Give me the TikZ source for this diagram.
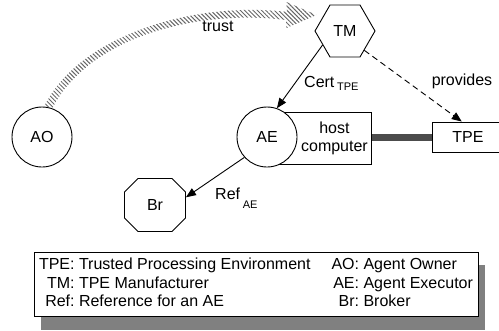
\documentclass[tikz,border=0pt]{standalone}
\usepackage{fontspec}
\setmainfont{Liberation Sans}
\usetikzlibrary{arrows.meta,calc,shapes.geometric,shapes.misc,shadows,patterns.meta}
\definecolor{HatchClr}{gray}{0.4}
\definecolor{LinkClr}{gray}{0.3}
\definecolor{ShadowClr}{gray}{0.5}

\begin{document}
\begin{tikzpicture}[x=1pt,y=-1pt,font=\fontsize{16}{18}\selectfont,
  every node/.style={inner sep=0pt},
  agent/.style={circle,draw,fill=white,line width=0.9pt,minimum size=60pt},
  maker/.style={regular polygon,regular polygon sides=6,draw,line width=0.9pt,minimum size=60pt},
  broker/.style={chamfered rectangle,chamfered rectangle xsep=15pt,chamfered rectangle ysep=15pt,
    draw,line width=0.9pt,minimum width=61pt,minimum height=53pt},
  hostbox/.style={draw,fill=white,line width=0.9pt},
  link/.style={line width=0.9pt,-{Triangle[length=10pt,width=8pt]}},
  legendbox/.style={draw,fill=white,line width=0.9pt,inner xsep=5pt,inner ysep=4.5pt,
    font=\fontsize{16}{18.5}\selectfont,
    drop shadow={shadow xshift=7pt,shadow yshift=-13pt,fill=ShadowClr,opacity=1}}]
\useasboundingbox (0,0) rectangle (499,330);
\clip (0,0) rectangle (499,330);

\node[maker] (TM) at (345,31) {TM};
\node[agent] (AO) at (42,137) {AO};
\node[hostbox,anchor=east,minimum width=105pt,minimum height=52pt,
  label={[align=center,anchor=east,xshift=-4pt]east:host\\computer}] (host) at (372,138) {};
\node[agent] (AE) at (267,137) {AE};
\node[hostbox,minimum width=72pt,minimum height=30pt] (TPE) at (468,137) {TPE};
\node[broker] (Br) at (155,205) {Br};

\coordinate (ts) at (AO.78);
\coordinate (tt) at ($(TM.west)+(2,-16)$);
\coordinate (tb) at ($(tt)+(-30,1)$);
\fill[pattern={Lines[angle=-45,distance=3pt,line width=1pt]},pattern color=HatchClr]
  ($(ts)+(-3.6,-1.8)$) .. controls ($(ts)+(33.4,-74.8)$) and ($(tb)+(-86.5,-15)$) .. ($(tb)+(0.5,-4)$)
  -- ($(tb)+(0,-14)$) -- (tt) -- ($(tb)+(0,12)$) -- ($(tb)+(-0.5,4)$)
  .. controls ($(tb)+(-87.5,-7)$) and ($(ts)+(40.6,-71.2)$) .. ($(ts)+(3.6,1.8)$) -- cycle;
\node[anchor=base] (trust) at (218,31) {trust};

\fill[LinkClr] ($(host.east)+(0,-4)$) rectangle ($(TPE.west)+(0,4)$);

\draw[link] (TM.212) -- (AE.71);
\draw[link,dash pattern=on 6pt off 4pt] (TM.-45) -- (TPE.112);
\draw[link] (AE.222) -- (Br.14);

\node[anchor=base west] (cert) at (304,87) {Cert\,\raisebox{-3.5pt}{\fontsize{11}{12}\selectfont TPE}};
\node[anchor=base] (provides) at (462,85) {provides};
\node[anchor=base west] (ref) at (215,199) {Ref\,\raisebox{-9pt}{\fontsize{11}{12}\selectfont AE}};

\node[legendbox] (legend) at (256,284.5) {\begin{tabular}{@{}r@{\ }l@{\hspace{21pt}}r@{\ }l@{}}
TPE: & Trusted Processing Environment & AO: & Agent Owner\\
TM: & TPE Manufacturer & AE: & Agent Executor\\
Ref: & Reference for an AE & Br: & Broker
\end{tabular}};
\end{tikzpicture}
\end{document}
